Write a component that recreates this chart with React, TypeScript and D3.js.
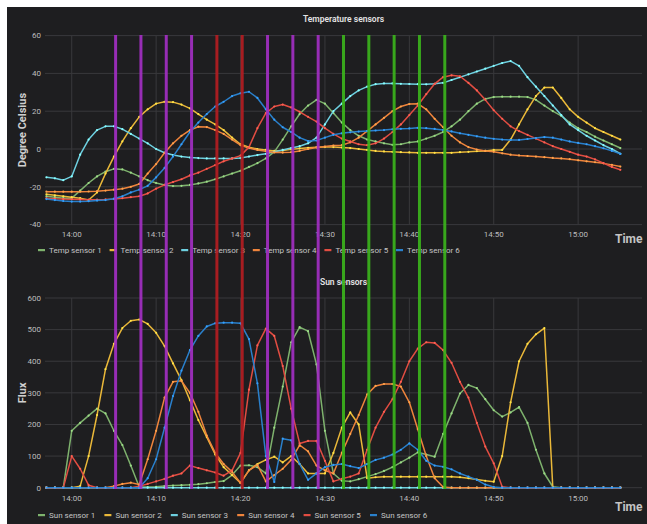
import React from 'react';
import * as d3 from 'd3';

// sample times, one per minute, 13:57 .. 15:05
const day = (h: number, m: number, s = 0) => new Date(2019, 5, 1, h, m, s);
const times = d3.timeMinute.range(day(13, 57), day(15, 6));

const tempNames = ['Temp sensor 1', 'Temp sensor 2', 'Temp sensor 3', 'Temp sensor 4', 'Temp sensor 5', 'Temp sensor 6'];
const sunNames = ['Sun sensor 1', 'Sun sensor 2', 'Sun sensor 3', 'Sun sensor 4', 'Sun sensor 5', 'Sun sensor 6'];
const colors = ['#7EB26D', '#EAB839', '#6ED0E0', '#EF843C', '#E24D42', '#2a80cc'];

const tempSensor1 = [
  -25, -25.5, -26, -26, -22, -18, -14.5, -12, -10.5, -10.8,
  -12.5, -14.5, -16.5, -18, -19, -19.6, -19.5, -19, -18.2, -17.3,
  -16, -14.5, -13, -11.5, -9.5, -7.5, -5, -1.5, 5, 12,
  18.5, 23, 26, 24, 19, 14, 10, 7, 5, 4,
  3, 2.2, 2.5, 3.5, 4, 5.5, 7, 9, 12, 15.5,
  20, 24, 26.5, 27.5, 27.7, 27.7, 27.7, 27.5, 26, 23,
  20, 17.5, 14, 11, 9, 6.5, 4.5, 2.5, 0.5,
];
const tempSensor2 = [
  -24, -24.5, -25, -25.5, -26, -27, -23, -13, -4, 4,
  11, 17, 21, 24, 25, 24.8, 23.5, 21.5, 18.5, 15.5,
  13, 10, 6, 2.5, 1, 0, -0.5, -1, -0.8, -0.2,
  0.3, 0.6, 0.9, 1, 1, 0.8, 0.5, 0, -0.5, -1,
  -1.3, -1.5, -1.7, -1.8, -2, -2, -2, -2, -2, -1.7,
  -1.5, -1.2, -1, -0.5, -0.5, 5, 13, 21, 28, 32.5,
  32.5, 27, 21, 17, 14, 11, 9, 7, 5,
];
const tempSensor3 = [
  -15, -15.5, -16.5, -14.5, -3, 5, 10, 12, 12, 10.5,
  8, 5.5, 3, 0, -2, -3.2, -4, -4.5, -4.8, -5,
  -5, -5, -5, -4.8, -4, -3.2, -2.5, -1.5, -0.5, 0.5,
  1.5, 3, 6, 13, 20, 24, 28, 31, 33, 34.3,
  34.7, 34.7, 34.5, 34.4, 34.3, 34.2, 34.5, 35, 36.5, 38,
  39.5, 41, 42.5, 44, 45.5, 46.5, 44, 38, 33, 28,
  23, 18, 13, 10, 7, 4.5, 2, 0, -2.5,
];
const tempSensor4 = [
  -22.6, -22.6, -22.6, -22.6, -22.6, -22.5, -22.3, -22, -21.5, -21,
  -20, -18.5, -13, -8, -2, 3, 7, 10, 11.8, 11.6,
  10, 8, 5, 2, 0.5, -0.5, -1.2, -1.8, -1.9, -1.7,
  -1, 0, 0.8, 1.3, 1.8, 2, 3.5, 6, 9.5, 13,
  16.5, 20, 22.5, 23.8, 24, 21, 16, 11.5, 7, 3.5,
  1, -0.3, -1, -1.5, -2.3, -3, -3.4, -3.7, -4, -4.3,
  -4.7, -5, -5.4, -6, -6.5, -7, -7.6, -8.4, -9.3,
];
const tempSensor5 = [
  -26, -26.3, -26.5, -26.6, -26.7, -26.8, -26.8, -26.7, -26.5, -26,
  -25.5, -25, -23.5, -21, -19, -17.5, -16, -14, -12.5, -10.5,
  -8.5, -6.5, -5, -3.5, 1, 11, 19, 22.5, 23.5, 22,
  19.7, 17, 14.5, 11, 8, 5.5, 4, 2.5, 2, 3,
  5.5, 9, 13, 18, 23, 29, 34.5, 38, 39, 38.5,
  35, 31, 26, 20.5, 16, 12, 9.5, 7.5, 5.5, 3.5,
  1.5, 0, -1.5, -3, -4, -5.5, -7.5, -9.5, -11,
];
const tempSensor6 = [
  -26.5, -27, -27.5, -27.8, -27.8, -27.6, -27.3, -27, -26.3, -25,
  -23, -21.5, -19.5, -15, -10, -4, 2.5, 9, 14, 18.5,
  22.5, 25, 28, 29.5, 30.3, 27, 21, 15.5, 11.5, 9,
  6, 4.2, 4.5, 6, 7.5, 8.3, 8.8, 9.2, 9.5, 9.8,
  10, 10.4, 10.7, 10.9, 11.2, 11, 10.6, 10, 9.3, 8.3,
  7.5, 6.7, 6, 5.4, 5, 4.8, 4.8, 5.3, 5.8, 6.3,
  6, 5, 4, 3.2, 2.5, 1.5, 0.4, -1, -2.6,
];

const sunSensor1 = [
  0, 0, 0, 180, 205, 228, 250, 235, 180, 135,
  70, 2, 2, 3, 5, 7, 8, 9, 11, 14,
  18, 21, 40, 70, 71, 65, 45, 190, 320, 460,
  508, 495, 390, 180, 45, 22, 20, 27, 35, 43,
  53, 65, 80, 95, 112, 105, 98, 170, 235, 298,
  325, 315, 280, 245, 225, 238, 255, 205, 120, 45,
  3, 0, 0, 0, 0, 0, 0, 0, 0,
];
const sunSensor2 = [
  0, 0, 0, 0, 5, 100, 230, 375, 455, 505,
  528, 532, 518, 490, 448, 393, 340, 277, 214, 160,
  105, 65, 40, 15, 55, 75, 88, 98, 80, 100,
  75, 45, 45, 45, 110, 190, 238, 200, 30, 33,
  35, 35, 35, 35, 35, 35, 35, 35, 35, 33,
  30, 26, 22, 19, 100, 270, 400, 455, 485, 505,
  0, 0, 0, 0, 0, 0, 0, 0, 0,
];
const sunSensor3 = [
  0, 0, 0, 0, 0, 0, 0, 0, 0, 0,
  0, 0, 0, 0, 0, 0, 0, 0, 0, 0,
  0, 0, 0, 0, 0, 0, 0, 0, 0, 0,
  0, 0, 0, 0, 0, 0, 0, 0, 0, 0,
  0, 0, 0, 0, 0, 0, 0, 0, 0, 0,
  0, 0, 0, 0, 0, 0, 0, 0, 0, 0,
  0, 0, 0, 0, 0, 0, 0, 0, 0,
];
const sunSensor4 = [
  0, 0, 0, 0, 0, 0, 0, 0, 5, 12,
  16, 10, 90, 180, 285, 335, 338, 300, 240, 165,
  110, 75, 50, 15, 55, 72, 20, 40, 60, 88,
  135, 115, 70, 55, 45, 110, 170, 230, 295, 322,
  328, 328, 320, 270, 185, 100, 30, 2, 0, 0,
  0, 0, 0, 0, 0, 0, 0, 0, 0, 0,
  0, 0, 0, 0, 0, 0, 0, 0, 0,
];
const sunSensor5 = [
  0, 0, 0, 100, 60, 8, 0, 0, 0, 0,
  0, 5, 12, 20, 28, 38, 45, 70, 62, 55,
  48, 38, 55, 110, 310, 450, 503, 480, 385, 250,
  140, 148, 148, 85, 20, 28, 35, 45, 120, 190,
  240, 280, 335, 400, 440, 460, 458, 435, 395, 335,
  285, 205, 130, 77, 3, 0, 0, 0, 0, 0,
  0, 0, 0, 0, 0, 0, 0, 0, 0,
];
const sunSensor6 = [
  0, 0, 0, 0, 0, 0, 0, 0, 0, 0,
  0, 0, 30, 90, 190, 290, 370, 435, 480, 510,
  520, 522, 522, 520, 470, 330, 100, 18, 155, 150,
  75, 25, 45, 65, 72, 75, 68, 62, 75, 88,
  95, 105, 120, 140, 120, 85, 70, 66, 58, 45,
  35, 25, 10, 2, 0, 0, 0, 0, 0, 0,
  0, 0, 0, 0, 0, 0, 0, 0, 0,
];

const tempSeries = [tempSensor1, tempSensor2, tempSensor3, tempSensor4, tempSensor5, tempSensor6];
const sunSeries = [sunSensor1, sunSensor2, sunSensor3, sunSensor4, sunSensor5, sunSensor6];

const tempTicks = [-40, -20, 0, 20, 40, 60];
const sunTicks = [0, 100, 200, 300, 400, 500, 600];

// event markers drawn across both panels
const eventTimes = [
  day(14, 5, 12), day(14, 8, 12), day(14, 11, 12), day(14, 14, 12), day(14, 17, 12),
  day(14, 20, 12), day(14, 23, 12), day(14, 26, 12), day(14, 29, 12), day(14, 32, 12),
  day(14, 35, 12), day(14, 38, 12), day(14, 41, 12), day(14, 44, 12),
];
const eventKinds = ['p', 'p', 'p', 'p', 'r', 'r', 'p', 'p', 'p', 'g', 'g', 'g', 'g', 'g'];
const eventColors: Record<string, string> = { p: '#a22fc2', r: '#b31d22', g: '#3bb31c' };

const FONT = 'Roboto, "Noto Sans", sans-serif';
const plotLeft = 45;
const plotRight = 642;

const x = d3
  .scaleTime()
  .domain([day(13, 56, 50), day(15, 7, 34)])
  .range([plotLeft, plotRight]);
const xTicks = d3.timeMinute.every(10)!.range(day(14, 0), day(15, 1));
const fmt = d3.timeFormat('%H:%M');

interface PanelProps {
  title: string;
  titleY: number;
  yLabel: string;
  y: d3.ScaleLinear<number, number>;
  ticks: number[];
  series: number[][];
  names: string[];
  legendY: number;
  legendStep: number;
  timeY: number;
}

const Panel = ({ title, titleY, yLabel, y, ticks, series, names, legendY, legendStep, timeY }: PanelProps) => {
  const [bottom, top] = y.range();
  const line = d3
    .line<number>()
    .x((_, i) => x(times[i]))
    .y((d) => y(d));

  return (
    <g>
      <text x={(plotLeft + plotRight) / 2} y={titleY} textAnchor="middle" fontSize={8.5} fontWeight={600} fill="#e4e4e4">
        {title}
      </text>
      {ticks.map((t) => (
        <g key={t}>
          <line x1={plotLeft} x2={plotRight} y1={y(t)} y2={y(t)} stroke="#39393c" strokeWidth={1} />
          <text x={41} y={y(t)} dy="0.35em" textAnchor="end" fontSize={8} fill="#bdbdbd">
            {t}
          </text>
        </g>
      ))}
      {xTicks.map((d) => (
        <g key={d.getTime()}>
          <line x1={x(d)} x2={x(d)} y1={top} y2={bottom} stroke="#39393c" strokeWidth={1} />
          <text x={x(d)} y={bottom + 10} dy="0.35em" textAnchor="middle" fontSize={8} fill="#bdbdbd">
            {fmt(d)}
          </text>
        </g>
      ))}
      <text
        transform={`translate(22,${(top + bottom) / 2}) rotate(-90)`}
        textAnchor="middle"
        dy="0.35em"
        fontSize={11}
        fontWeight={700}
        fill="#cfcfcf"
      >
        {yLabel}
      </text>
      <text x={615} y={timeY} fontSize={12} fontWeight={700} fill="#c4c4c4">
        Time
      </text>
      {series.map((s, i) => (
        <g key={names[i]}>
          <path d={line(s) ?? ''} fill="none" stroke={colors[i]} strokeWidth={1.5} strokeLinejoin="round" />
          {s.map((v, j) => (
            <circle key={j} cx={x(times[j])} cy={y(v)} r={1.1} fill={d3.color(colors[i])!.brighter(0.6).formatHex()} />
          ))}
        </g>
      ))}
      {names.map((n, i) => (
        <g key={n} transform={`translate(${38 + i * legendStep},${legendY})`}>
          <rect x={0} y={-1} width={7} height={2.2} fill={colors[i]} />
          <text x={11} y={0} dy="0.35em" fontSize={8} fill="#c4c4c4">
            {n}
          </text>
        </g>
      ))}
    </g>
  );
};

const App = () => {
  const yTemp = d3.scaleLinear().domain([-40, 60]).range([224.6, 35.6]);
  const ySun = d3.scaleLinear().domain([0, 600]).range([487.7, 298]);

  return (
    <svg
      width={647}
      height={524}
      style={{ position: 'absolute', left: 0, top: 0, fontFamily: FONT }}
    >
      <rect x={0} y={0} width={647} height={524} fill="#ffffff" />
      <rect x={7} y={7} width={640} height={517} fill="#1e1e20" />
      <Panel
        title="Temperature sensors"
        titleY={22}
        yLabel="Degree Celsius"
        y={yTemp}
        ticks={tempTicks}
        series={tempSeries}
        names={tempNames}
        legendY={250}
        legendStep={71.6}
        timeY={243}
      />
      <Panel
        title="Sun sensors"
        titleY={285}
        yLabel="Flux"
        y={ySun}
        ticks={sunTicks}
        series={sunSeries}
        names={sunNames}
        legendY={515}
        legendStep={66.4}
        timeY={511}
      />
      {eventTimes.map((d, i) => (
        <line
          key={i}
          x1={x(d)}
          x2={x(d)}
          y1={35}
          y2={489}
          stroke={eventColors[eventKinds[i]]}
          strokeWidth={3}
          opacity={0.92}
        />
      ))}
    </svg>
  );
};

export default App;
